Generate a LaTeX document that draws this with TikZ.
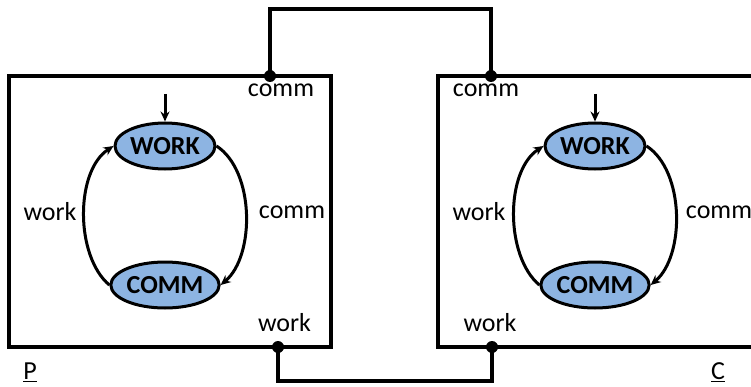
\documentclass[tikz,border=0pt]{standalone}
\usepackage{fontspec}
\setmainfont{Carlito}
\usetikzlibrary{arrows.meta,shapes.geometric}
\definecolor{stfill}{HTML}{8DB4E2}
\tikzset{
  boxline/.style={line width=4pt},
  wire/.style={line width=4pt},
  state/.style={ellipse, draw, line width=3pt, fill=stfill, minimum width=100pt, minimum height=46pt, inner sep=0pt, font=\fontsize{26}{30}\selectfont\bfseries},
  trans/.style={line width=3pt, -{Stealth[length=10pt,width=9pt]}},
  lbl/.style={font=\fontsize{26}{30}\selectfont, inner sep=0pt},
  port/.style={circle, fill=black, inner sep=0pt, minimum size=12pt},
}
\begin{document}
\begin{tikzpicture}[x=1pt,y=1pt]
\useasboundingbox (0,0) rectangle (751,386);
\clip (0,0) rectangle (751,386);
% boxes
\draw[boxline] (9,39) rectangle (331,310);
\draw[boxline] (438,39) rectangle (762,310);
% ports
\coordinate (pc) at (270,310);
\coordinate (pw) at (278,39);
\coordinate (cc) at (491,310);
\coordinate (cw) at (492,39);
% connectors
\draw[wire] (pc) -- (pc |- 0,377) -- (cc |- 0,377) -- (cc);
\draw[wire] (pw) -- (pw |- 0,5) -- (cw |- 0,5) -- (cw);
\node[port] (pcdot) at (pc) {};
\node[port] (pwdot) at (pw) {};
\node[port] (ccdot) at (cc) {};
\node[port] (cwdot) at (cw) {};
% port labels
\node[lbl] (lpc) at (281,296) {comm};
\node[lbl] (lpw) at (284.5,63) {work};
\node[lbl] (lcc) at (486,296) {comm};
\node[lbl] (lcw) at (490,63) {work};
% P machine
\node[state] (pW) at (165,240) {WORK};
\node[state] (pC) at (165,101) {COMM};
\coordinate (pinit) at (165,292);
\draw[trans] (pinit) -- (pW.north);
\draw[trans] (pC.west) .. controls (75,130) and (75,215) .. (pW.west);
\draw[trans] (pW.east) .. controls (255,215) and (255,130) .. (pC.east);
\node[lbl] (pwl) at (50,174) {work};
\node[lbl] (pcl) at (292,174) {comm};
% C machine
\node[state] (cW) at (595,240) {WORK};
\node[state] (cC) at (595,101) {COMM};
\coordinate (cinit) at (595,292);
\draw[trans] (cinit) -- (cW.north);
\draw[trans] (cC.west) .. controls (505,130) and (505,215) .. (cW.west);
\draw[trans] (cW.east) .. controls (685,215) and (685,130) .. (cC.east);
\node[lbl] (cwl) at (479,174) {work};
\node[lbl] (ccl) at (719,174) {comm};
% names
\node[lbl] (pname) at (30,14) {\underline{P}};
\node[lbl] (cname) at (718,14) {\underline{C}};
\end{tikzpicture}
\end{document}
